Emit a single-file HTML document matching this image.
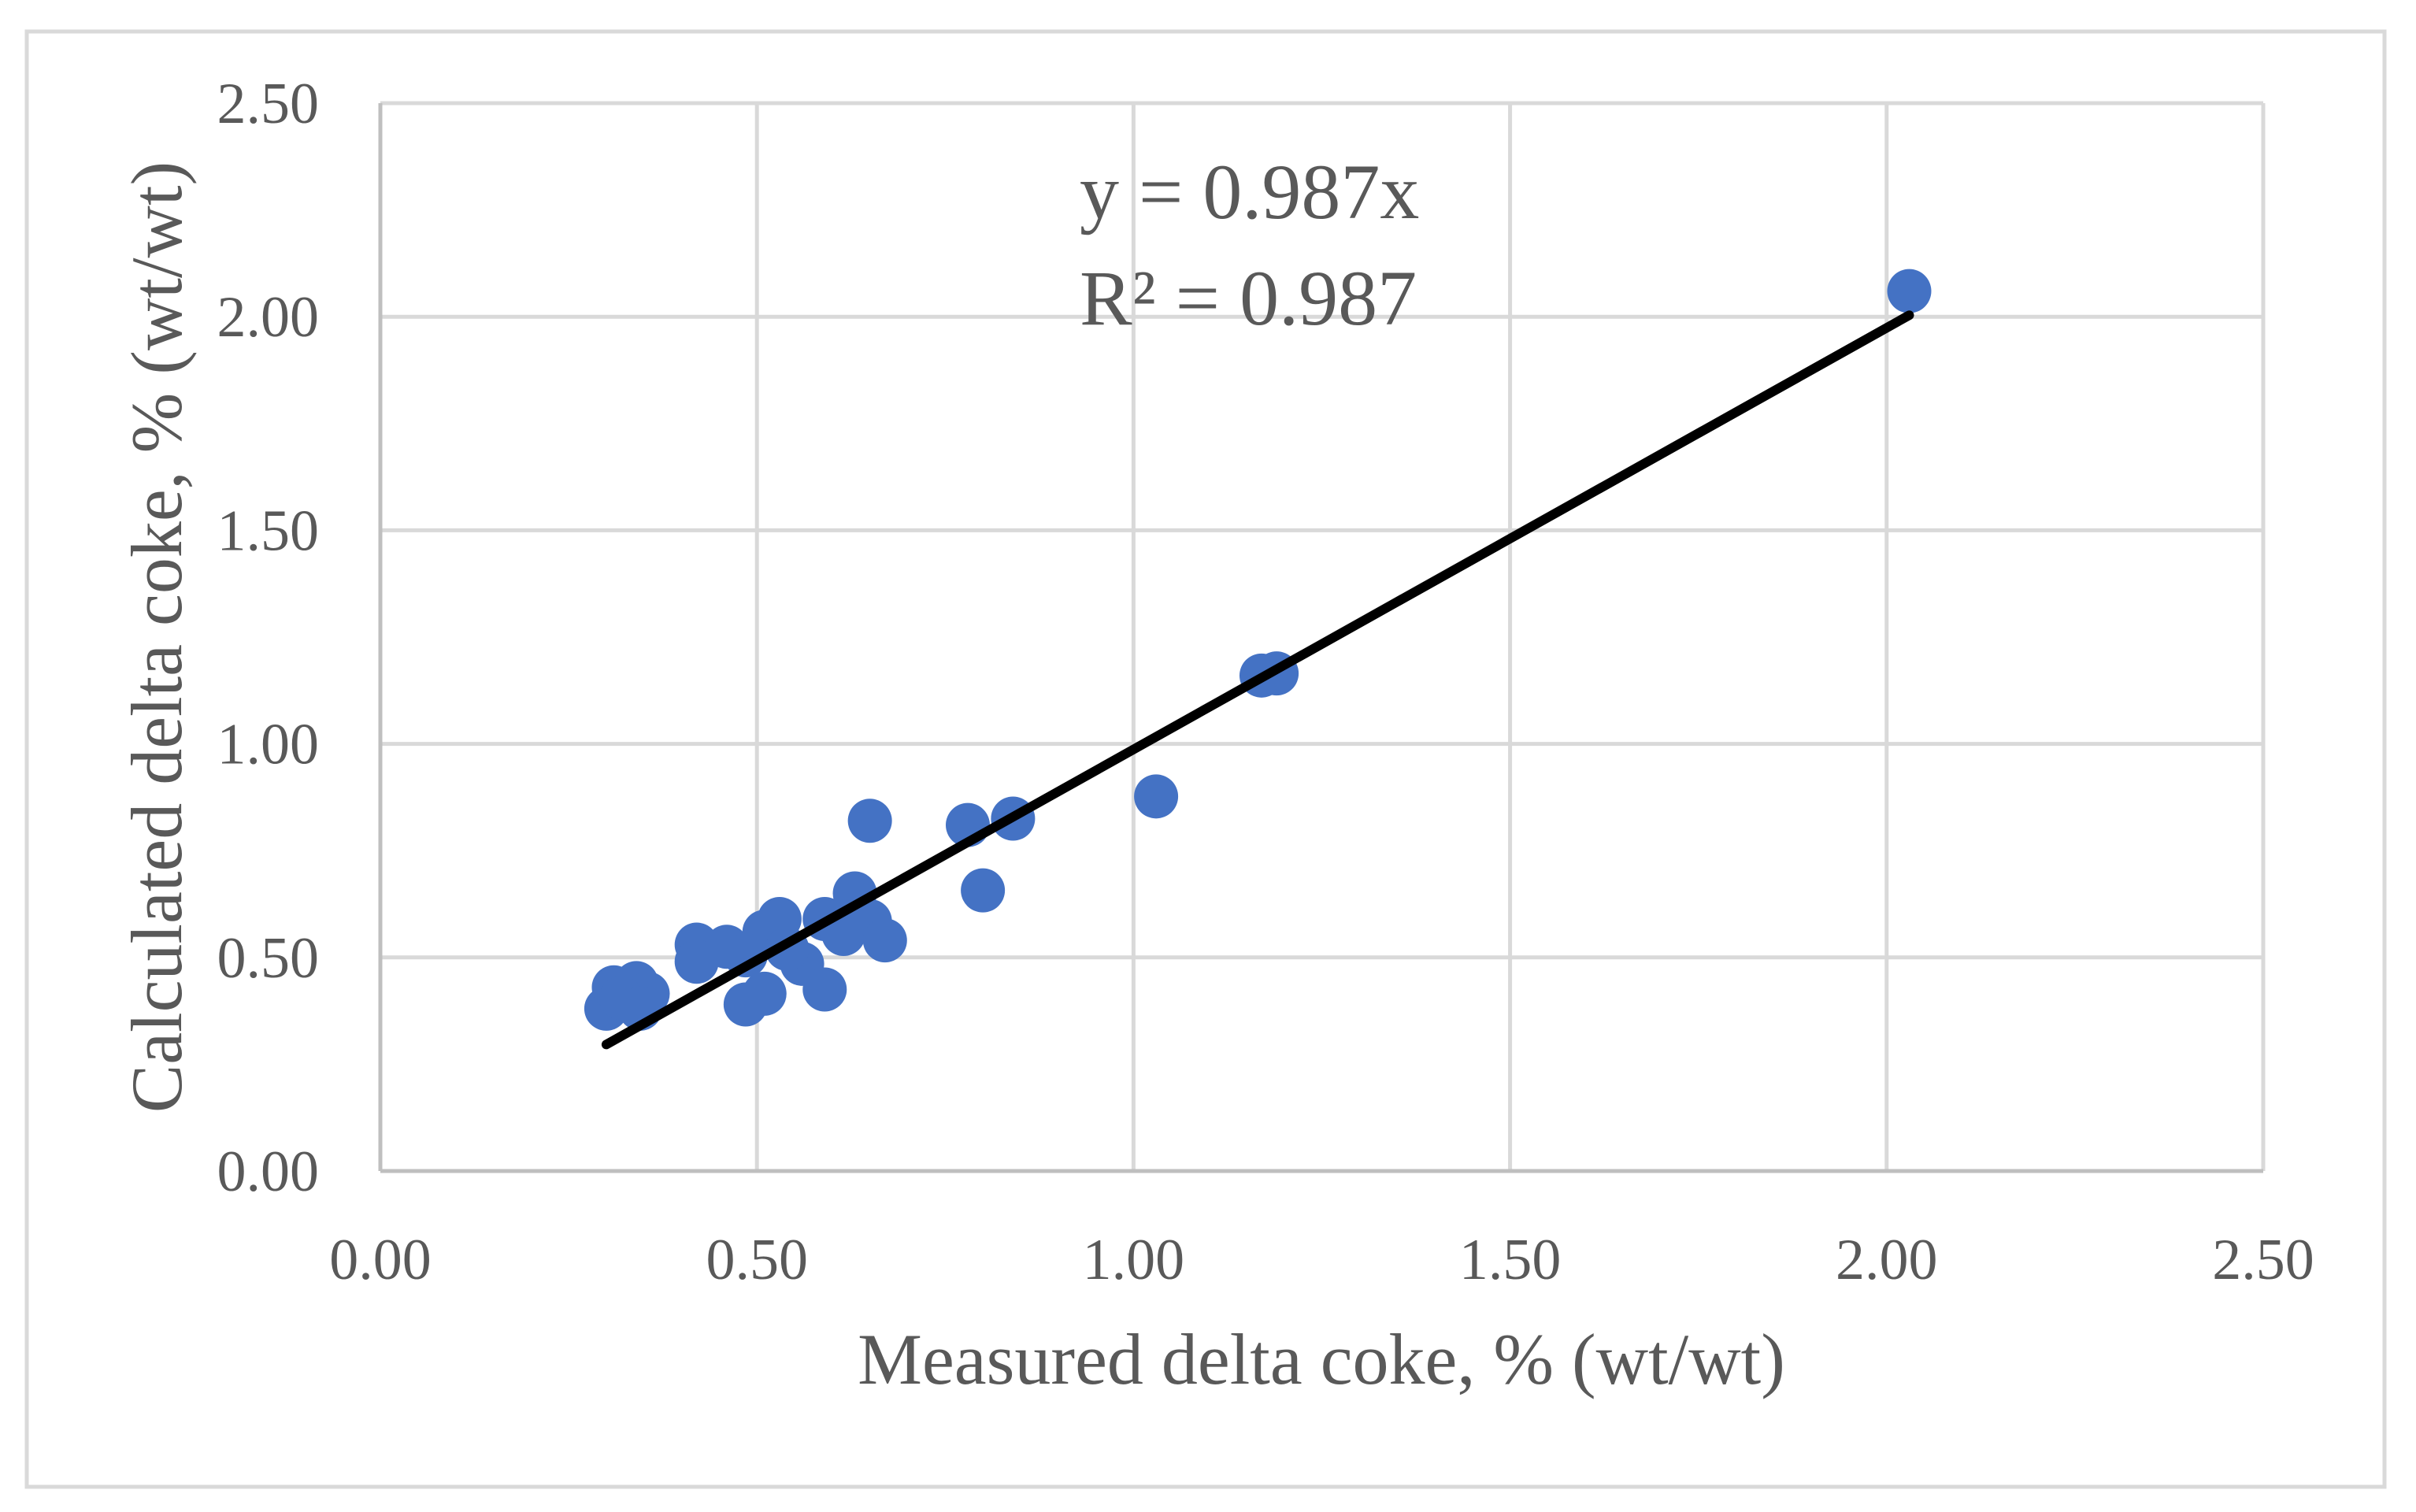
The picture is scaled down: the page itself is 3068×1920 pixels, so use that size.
<!DOCTYPE html>
<html><head><meta charset="utf-8"><style>
html,body{margin:0;padding:0;background:#fff}
svg{display:block}
text{font-family:"Liberation Serif",serif;fill:#595959}
</style></head><body>
<svg id="chart" width="3068" height="1920" viewBox="0 0 3068 1920">
<rect x="34" y="40" width="2994" height="1848" fill="#fff" stroke="#d9d9d9" stroke-width="5"/>
<g id="grid"></g>
<g id="axes"></g>
<g id="marks"></g>
<text x="1371" y="277" font-size="100">y = 0.987x</text>
<text x="1371" y="412" font-size="100">R² = 0.987</text>
<text x="1678" y="1757" font-size="92" text-anchor="middle">Measured delta coke, % (wt/wt)</text>
<text x="0" y="0" font-size="92" text-anchor="middle" transform="translate(230,809) rotate(-90)">Calculated delta coke, % (wt/wt)</text>
</svg>
<script>
const xTicks = [0, 0.5, 1.0, 1.5, 2.0, 2.5];
const yTicks = [0, 0.5, 1.0, 1.5, 2.0, 2.5];
const xTickLabels = ["0.00","0.50","1.00","1.50","2.00","2.50"];
const yTickLabels = ["0.00","0.50","1.00","1.50","2.00","2.50"];
const measured = [2.03,1.17,1.19,1.03,0.65,0.78,0.84,0.80,0.63,0.59,0.65,0.615,0.67,0.53,0.51,0.42,0.42,0.46,0.485,0.56,0.54,0.59,0.485,0.51,0.30,0.31,0.34,0.355,0.32,0.345];
const calculated = [2.06,1.16,1.165,0.877,0.82,0.81,0.825,0.657,0.65,0.59,0.585,0.555,0.54,0.59,0.56,0.53,0.49,0.525,0.505,0.485,0.52,0.425,0.39,0.415,0.38,0.43,0.44,0.415,0.405,0.38];
const slope = [0.987];
const trendRange = [0.30, 2.03];

const NS = "http://www.w3.org/2000/svg";
const X0 = 483, X1 = 2874, Y0 = 1487, Y1 = 131;
function sx(v){ return X0 + (v - 0) / 2.5 * (X1 - X0); }
function sy(v){ return Y0 - (v - 0) / 2.5 * (Y0 - Y1); }
function mk(tag, attrs, parent){
  const e = document.createElementNS(NS, tag);
  for (const k in attrs) e.setAttribute(k, attrs[k]);
  parent.appendChild(e);
  return e;
}
const grid = document.getElementById('grid');
const axes = document.getElementById('axes');
const marks = document.getElementById('marks');

xTicks.forEach((t, i) => {
  const l = mk('line', {x1: sx(t), x2: sx(t), y1: Y1, y2: Y0, stroke: '#d9d9d9', 'stroke-width': 5}, grid);
  
  
  const tx = mk('text', {x: sx(t), y: 1624, 'font-size': 74, 'text-anchor': 'middle'}, axes);
  tx.textContent = xTickLabels[i];
  
  
});
yTicks.forEach((t, i) => {
  const l = mk('line', {x1: X0, x2: X1, y1: sy(t), y2: sy(t), stroke: '#d9d9d9', 'stroke-width': 5}, grid);
  
  
  const tx = mk('text', {x: 405, y: sy(t) + 25, 'font-size': 74, 'text-anchor': 'end'}, axes);
  tx.textContent = yTickLabels[i];
  
  
});
const frameL = mk('line', {x1: X0, x2: X0, y1: Y1, y2: Y0, stroke: '#bfbfbf', 'stroke-width': 5}, axes);


const frameB = mk('line', {x1: X0, x2: X1, y1: Y0, y2: Y0, stroke: '#bfbfbf', 'stroke-width': 5}, axes);



measured.forEach((m, i) => {
  const c = mk('circle', {cx: sx(m), cy: sy(calculated[i]), r: 28, fill: '#4472c4'}, marks);
  
  
});
const tl = mk('line', {x1: sx(trendRange[0]), y1: sy(trendRange[0]*slope[0]), x2: sx(trendRange[1]), y2: sy(trendRange[1]*slope[0]), stroke: '#000', 'stroke-width': 12, 'stroke-linecap': 'round'}, marks);


</script>
</body></html>
